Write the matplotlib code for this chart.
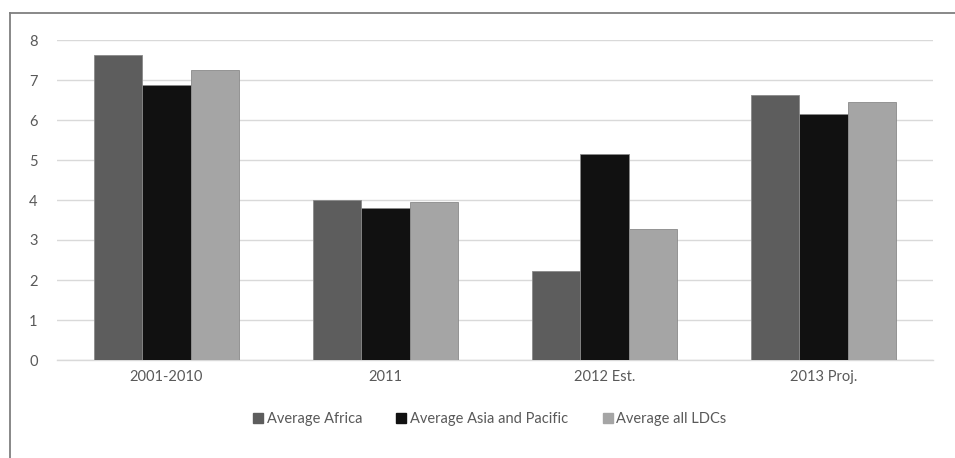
import matplotlib
matplotlib.use("Agg")
import matplotlib.pyplot as plt
import numpy as np
from matplotlib.lines import Line2D

categories = ["2001-2010", "2011", "2012 Est.", "2013 Proj."]
series_names = ["Average Africa", "Average Asia and Pacific", "Average all LDCs"]
africa = [7.62, 3.99, 2.22, 6.63]
asia_pacific = [6.87, 3.80, 5.14, 6.14]
all_ldcs = [7.25, 3.94, 3.28, 6.45]
y_ticks = [0, 1, 2, 3, 4, 5, 6, 7, 8]

colors = ["#5d5d5d", "#111111", "#a5a5a5"]
text_color = "#595959"

plt.rcParams["font.family"] = ["Lato", "DejaVu Sans"]

fig = plt.figure(figsize=(9.55, 4.58), dpi=100)
W, H = 955, 458
ax = fig.add_axes([57 / W, 1 - 360 / H, (933 - 57) / W, 320 / H])

x = np.arange(len(categories))
bar_w = 0.221
for i, (vals, c) in enumerate(zip([africa, asia_pacific, all_ldcs], colors)):
    ax.bar(x + (i - 1) * bar_w, vals, width=bar_w, color=c,
           edgecolor="#8a8a8a", linewidth=0.6, zorder=3)

ax.set_xlim(-0.5, len(categories) - 0.5)
ax.set_ylim(0, 8)
ax.set_yticks(y_ticks)
ax.set_xticks(x)
ax.set_xticklabels(categories)
ax.yaxis.grid(True, color="#d9d9d9", linewidth=1.0, zorder=0)
ax.tick_params(axis="both", length=0, labelsize=10.5, colors=text_color)
ax.tick_params(axis="y", pad=14)
ax.tick_params(axis="x", pad=7)
for s in ["top", "right", "left"]:
    ax.spines[s].set_visible(False)
ax.spines["bottom"].set_color("#d9d9d9")
ax.spines["bottom"].set_linewidth(1.0)

handles = [Line2D([0], [0], marker="s", linestyle="none", markersize=6.5,
                  markerfacecolor=c, markeredgecolor=c) for c in colors]
fig.legend(handles, series_names, loc="center", bbox_to_anchor=(490 / W, 1 - 419 / H),
           ncol=3, frameon=False, fontsize=10.5, labelcolor=text_color,
           handletextpad=0.3, columnspacing=2.4, handlelength=0.6)

# outer frame lines (left and top)
fig.add_artist(Line2D([9.5 / W, 9.5 / W], [0, 1 - 12.5 / H], transform=fig.transFigure,
                      color="#7f7f7f", linewidth=1.3))
fig.add_artist(Line2D([9.5 / W, 1], [1 - 12.5 / H, 1 - 12.5 / H], transform=fig.transFigure,
                      color="#7f7f7f", linewidth=1.3))

fig.savefig("out.png", dpi=100, facecolor="white")
